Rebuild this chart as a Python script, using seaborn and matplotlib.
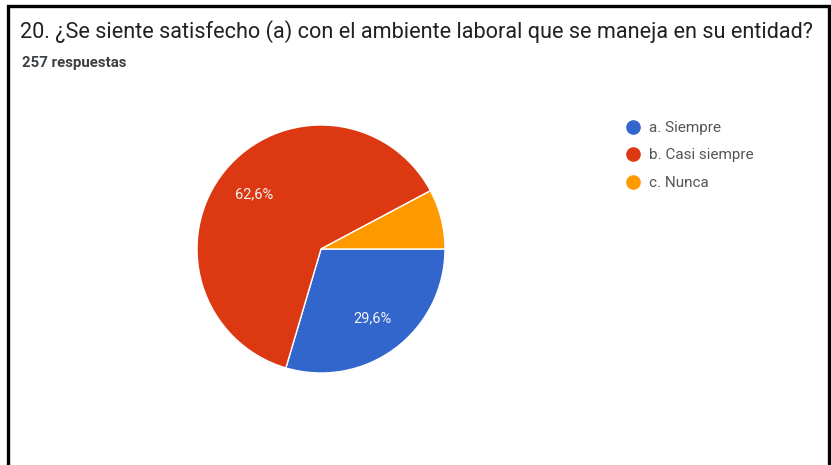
import matplotlib
matplotlib.use("Agg")
import matplotlib.pyplot as plt
from matplotlib.lines import Line2D
from matplotlib.patches import Rectangle
import seaborn as sns

# Survey answers (257 responses)
categories = ["a. Siempre", "b. Casi siempre", "c. Nunca"]
counts = [76, 161, 20]
colors = ["#3366cc", "#dc3912", "#ff9900"]
title = "20. ¿Se siente satisfecho (a) con el ambiente laboral que se maneja en su entidad?"
subtitle = "257 respuestas"

sns.set_theme(style="white")
plt.rcParams["font.family"] = ["Roboto", "DejaVu Sans"]

W, H = 831, 465
fig = plt.figure(figsize=(W / 100, H / 100), dpi=100)
fig.patch.set_facecolor("white")

# pie axes: centre (321, 249) px, radius 124 px
cx, cy, r = 321, 249, 124
ax = fig.add_axes([(cx - r) / W, 1 - (cy + r) / H, 2 * r / W, 2 * r / H])

palette = sns.color_palette(colors)


def pct_label(p):
    if p < 10:
        return ""
    return f"{p:.1f}%".replace(".", ",")


wedges, texts, autotexts = ax.pie(
    counts,
    colors=palette,
    startangle=0,
    counterclock=False,
    autopct=pct_label,
    pctdistance=0.70,
    wedgeprops=dict(edgecolor="white", linewidth=1),
    textprops=dict(color="#f4f4f4", fontsize=10.5),
)
ax.set_xlim(-1, 1)
ax.set_ylim(-1, 1)
ax.set_aspect("equal")
ax.axis("off")

# title and response count
fig.text(20 / W, 1 - 38 / H, title, fontsize=15.6, color="#202124",
         va="baseline", ha="left")
fig.text(22 / W, 1 - 67 / H, subtitle, fontsize=10.8, color="#3c4043",
         va="baseline", ha="left", fontweight="bold")

# legend
handles = [Line2D([0], [0], marker="o", linestyle="", markersize=9.5,
                  markerfacecolor=c, markeredgecolor=c) for c in colors]
fig.legend(handles, categories, loc="upper left",
           bbox_to_anchor=(625 / W, 1 - 121 / H), frameon=False,
           fontsize=11, labelcolor="#555555", handletextpad=0.6,
           labelspacing=0.88, handlelength=1.0, borderaxespad=0,
           borderpad=0)

# frame around the card (left, top and right edges)
frame = Rectangle((8 / W, -0.05), (829 - 8) / W, 1.05 - 6 / H,
                  transform=fig.transFigure, fill=False,
                  edgecolor="black", linewidth=2.4, zorder=10)
fig.patches.append(frame)

fig.savefig("out.png", dpi=100, facecolor="white")
